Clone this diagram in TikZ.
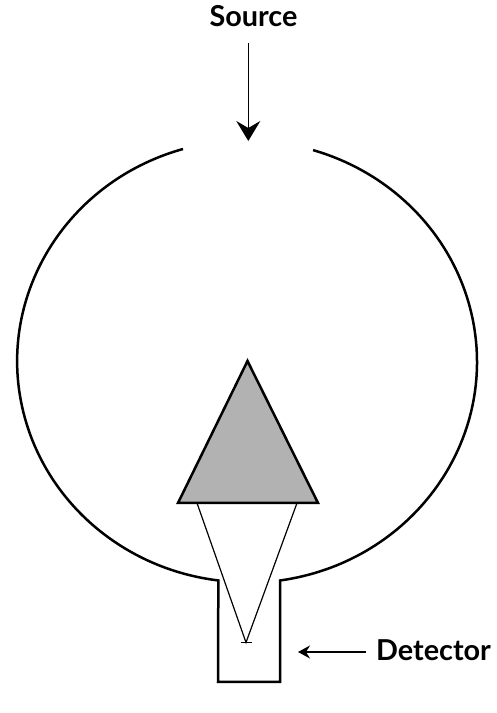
\documentclass[tikz,border=0pt]{standalone}
\usepackage{fontspec}
\setmainfont{Lato}
\usetikzlibrary{arrows.meta}
\definecolor{prismgray}{gray}{0.7}
\tikzset{
  outline/.style={line width=2.5pt,black,line join=miter},
  thin ray/.style={line width=1.2pt,black},
  lbl/.style={font=\fontsize{28.8}{29}\selectfont\bfseries,inner sep=0pt,anchor=base},
}
\begin{document}
\begin{tikzpicture}[x=1pt,y=1pt]
\useasboundingbox (0,0) rectangle (496,713);
% envelope with neck
\draw[outline] (183,564) arc[start angle=106.2,end angle=262.8,x radius=230pt,y radius=221pt]
  -- (218,31) -- (280,31) -- (280,132.5)
  arc[start angle=-81.75,end angle=73.3,x radius=230pt,y radius=221pt];
% prism
\node[coordinate] (apex) at (247.5,352) {};
\node[coordinate] (bl) at (178,210) {};
\node[coordinate] (br) at (318,210) {};
\draw[outline,fill=prismgray] (apex) -- (bl) -- (br) -- cycle;
% rays
\node[coordinate] (rl) at (197,210) {};
\node[coordinate] (rr) at (297,210) {};
\node[coordinate] (tip) at (246,70.5) {};
\node[coordinate] (barl) at (241,70.5) {};
\node[coordinate] (barr) at (251.5,70.5) {};
\draw[thin ray] (rl) -- (tip) -- (rr);
\draw[thin ray] (barl) -- (barr);
% labels
\node[lbl] (src) at (253.5,686) {Source};
\node[lbl,anchor=base west] (det) at (376,52.5) {Detector};
\coordinate (srcstart) at (248.3,670);
\coordinate (srcend) at (248.3,572);
\coordinate (detstart) at (366,61);
\coordinate (detend) at (298,61);
\draw[line width=1.3pt,-{Stealth[length=20pt,width=24pt,inset=7pt]}] (srcstart) -- (srcend);
\draw[line width=1.3pt,-{Stealth[length=12pt,width=13pt,inset=4pt]}] (detstart) -- (detend);
\end{tikzpicture}
\end{document}
